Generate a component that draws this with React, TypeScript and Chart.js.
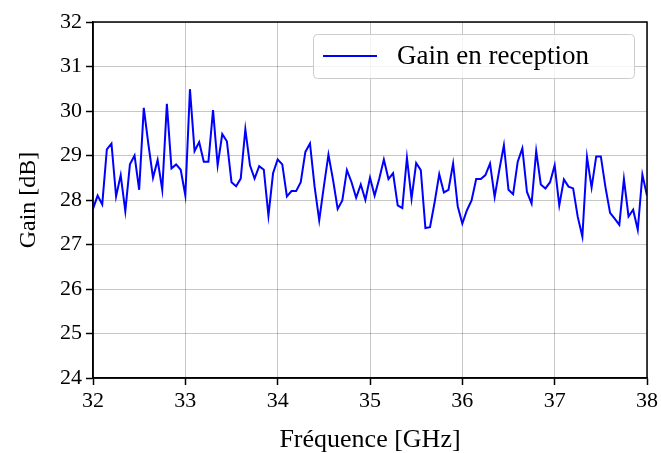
import React, { useEffect, useRef } from 'react';
import { Chart, registerables } from 'chart.js';

Chart.register(...registerables);

// ---- data ----
const FREQ_START = 32; // GHz
const FREQ_STEP = 0.05; // GHz, sampling step of the measurement
const GAIN = [
  27.8, 28.1, 27.9, 29.14, 29.27, 28.08, 28.56, 27.75, 28.8, 29.0,
  28.23, 30.07, 29.25, 28.5, 28.9, 28.23, 30.16, 28.71, 28.8, 28.68,
  28.1, 30.49, 29.1, 29.3, 28.86, 28.86, 30.02, 28.78, 29.48, 29.32,
  28.4, 28.31, 28.48, 29.59, 28.78, 28.48, 28.76, 28.68, 27.65, 28.6,
  28.91, 28.8, 28.08, 28.2, 28.2, 28.4, 29.08, 29.27, 28.3, 27.54,
  28.3, 29.02, 28.45, 27.8, 27.99, 28.67, 28.4, 28.05, 28.35, 28.0,
  28.5, 28.1, 28.48, 28.91, 28.47, 28.6, 27.88, 27.82, 28.95, 28.03,
  28.83, 28.67, 27.37, 27.39, 27.95, 28.58, 28.17, 28.23, 28.82, 27.86,
  27.47, 27.77, 27.99, 28.47, 28.47, 28.56, 28.82, 28.07, 28.67, 29.23,
  28.23, 28.13, 28.86, 29.16, 28.18, 27.92, 29.1, 28.35, 28.26, 28.4,
  28.78, 27.88, 28.46, 28.3, 28.26, 27.62, 27.18, 28.97, 28.28, 28.98,
  28.98, 28.29, 27.71, 27.58, 27.44, 28.47, 27.63, 27.78, 27.33, 28.57,
  28.1,
];
const X_MIN = 32;
const X_MAX = 38;
const Y_MIN = 24;
const Y_MAX = 32;
const SERIES_LABEL = 'Gain en reception';
const X_TITLE = 'Fréquence [GHz]';
const Y_TITLE = 'Gain [dB]';

const FONT = "'Liberation Serif', serif";

const framePlugin = {
  id: 'frameAndLegend',
  afterDraw(chart: any) {
    const { ctx, chartArea: a } = chart;
    ctx.save();
    ctx.strokeStyle = '#000';
    ctx.lineWidth = 1.5;
    ctx.strokeRect(a.left, a.top, a.right - a.left, a.bottom - a.top);

    // legend box (upper right)
    const lx = 313.5, ly = 34.5, lw = 321, lh = 44, r = 4;
    ctx.beginPath();
    ctx.moveTo(lx + r, ly);
    ctx.lineTo(lx + lw - r, ly);
    ctx.quadraticCurveTo(lx + lw, ly, lx + lw, ly + r);
    ctx.lineTo(lx + lw, ly + lh - r);
    ctx.quadraticCurveTo(lx + lw, ly + lh, lx + lw - r, ly + lh);
    ctx.lineTo(lx + r, ly + lh);
    ctx.quadraticCurveTo(lx, ly + lh, lx, ly + lh - r);
    ctx.lineTo(lx, ly + r);
    ctx.quadraticCurveTo(lx, ly, lx + r, ly);
    ctx.closePath();
    ctx.fillStyle = 'rgba(255,255,255,0.8)';
    ctx.fill();
    ctx.strokeStyle = '#cccccc';
    ctx.lineWidth = 1;
    ctx.stroke();

    ctx.beginPath();
    ctx.moveTo(323, 56);
    ctx.lineTo(377, 56);
    ctx.strokeStyle = '#0000ff';
    ctx.lineWidth = 2;
    ctx.stroke();

    ctx.fillStyle = '#000';
    ctx.font = `27px ${FONT}`;
    ctx.textBaseline = 'middle';
    ctx.textAlign = 'left';
    ctx.fillText(chart.data.datasets[0].label, 397, 57);
    ctx.restore();
  },
};

export default function App() {
  const ref = useRef<HTMLCanvasElement | null>(null);

  useEffect(() => {
    if (!ref.current) return;
    const points = GAIN.map((g, i) => ({ x: FREQ_START + i * FREQ_STEP, y: g }));
    const chart = new Chart(ref.current, {
      type: 'line',
      data: {
        datasets: [
          {
            label: SERIES_LABEL,
            data: points,
            borderColor: '#0000ff',
            backgroundColor: '#0000ff',
            borderWidth: 2,
            pointRadius: 0,
            tension: 0,
            fill: false,
          },
        ],
      },
      options: {
        animation: false,
        responsive: false,
        maintainAspectRatio: false,
        devicePixelRatio: 1,
        layout: { padding: { top: 22, right: 13, left: 0, bottom: 0 } },
        plugins: {
          legend: { display: false },
          tooltip: { enabled: false },
        },
        scales: {
          x: {
            type: 'linear',
            min: X_MIN,
            max: X_MAX,
            afterFit: (s: any) => { s.height = 75; },
            ticks: {
              stepSize: 1,
              color: '#000',
              padding: 3,
              font: { family: FONT, size: 22 },
            },
            grid: {
              color: 'rgba(0,0,0,0.22)',
              lineWidth: 1,
              tickColor: '#000',
              tickLength: 7,
              tickWidth: 1.5,
            },
            border: { color: '#000', width: 1.5 },
            title: {
              display: true,
              text: X_TITLE,
              color: '#000',
              font: { family: FONT, size: 26 },
              padding: { top: 0, bottom: -3 },
            },
          },
          y: {
            type: 'linear',
            min: Y_MIN,
            max: Y_MAX,
            afterFit: (s: any) => { s.width = 93; },
            ticks: {
              stepSize: 1,
              color: '#000',
              padding: 4,
              font: { family: FONT, size: 22 },
            },
            grid: {
              color: 'rgba(0,0,0,0.22)',
              lineWidth: 1,
              tickColor: '#000',
              tickLength: 7,
              tickWidth: 1.5,
            },
            border: { color: '#000', width: 1.5 },
            title: {
              display: true,
              text: Y_TITLE,
              color: '#000',
              font: { family: FONT, size: 24 },
              padding: { top: 14, bottom: 0 },
            },
          },
        },
      },
      plugins: [framePlugin],
    });
    return () => chart.destroy();
  }, []);

  return (
    <div style={{ position: 'fixed', left: 0, top: 0, width: 661, height: 453, background: '#fff' }}>
      <canvas ref={ref} width={661} height={453} style={{ width: 661, height: 453, display: 'block' }} />
    </div>
  );
}
